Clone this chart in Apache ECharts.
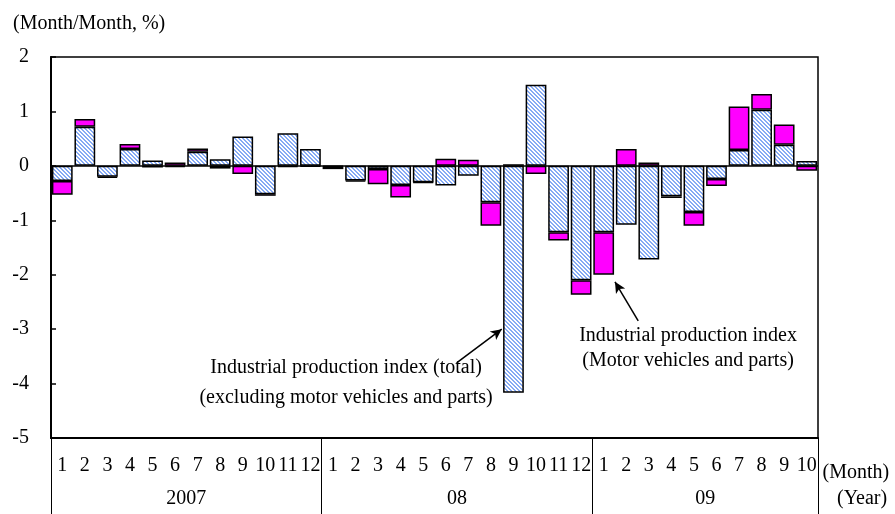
<!DOCTYPE html>
<html>
<head>
<meta charset="utf-8">
<script src="https://cdn.jsdelivr.net/npm/echarts@6/dist/echarts.min.js"></script>
<style>
html,body{margin:0;padding:0;background:#fff;}
#chart{width:895px;height:514px;}
</style>
</head>
<body>
<div id="chart"></div>
<script>
// ---- data ----
var years = ['2007', '08', '09'];
var monthsPerYear = [12, 12, 10];
var excludingMotor = [
  -0.28, 0.72, -0.20, 0.31, 0.10, -0.02, 0.26, 0.12, 0.54, -0.52, 0.60, 0.31,
  -0.01, -0.27, -0.06, -0.35, -0.30, -0.36, -0.18, -0.67, -4.17, 1.49, -1.22, -2.10,
  -1.22, -1.08, -1.72, -0.56, -0.85, -0.24, 0.29, 1.03, 0.39, 0.09
];
var motorVehicles = [
  -0.25, 0.14, -0.02, 0.09, -0.03, 0.06, 0.06, -0.05, -0.15, -0.03, -0.02, -0.01,
  -0.05, -0.02, -0.28, -0.23, -0.01, 0.13, 0.11, -0.43, 0.03, -0.15, -0.15, -0.27,
  -0.78, 0.31, 0.06, -0.03, -0.25, -0.13, 0.80, 0.29, 0.37, -0.09
];
var yTicks = [-5, -4, -3, -2, -1, 0, 1, 2];
var annotationTexts = [
  'Industrial production index (total)\n(excluding motor vehicles and parts)',
  'Industrial production index\n(Motor vehicles and parts)'
];
// annotation anchors in data space (x: month position 0..34, y: %)
var annotationAnchors = [[13.08, -3.98], [28.24, -3.36]];
var annotationLineHeights = [30, 25];
var arrowLines = [
  [[17.98, -3.62], [19.98, -3.0]],
  [[26.03, -2.85], [25.0, -2.13]]
];

// ---- build categories ----
var categories = [];
var yearBoundaries = [];
var yearCenters = {};
var pos = 0;
years.forEach(function (y, i) {
  yearBoundaries.push(pos);
  yearCenters[pos + monthsPerYear[i] / 2] = y;
  for (var m = 1; m <= monthsPerYear[i]; m++) categories.push(y + '-' + m);
  pos += monthsPerYear[i];
});
var total = categories.length;

// hatch pattern
var pc = document.createElement('canvas');
pc.width = 4; pc.height = 4;
var ctx = pc.getContext('2d');
ctx.fillStyle = '#ffffff';
ctx.fillRect(0, 0, 4, 4);
ctx.fillStyle = '#86aaf4';
for (var i = 0; i < 4; i++) {
  ctx.fillRect(i, i, 1, 1);
  ctx.fillRect((i + 1) % 4, i, 1, 1);
}

var FONT = 'Liberation Serif';
var FS = 20;
var gridRect = { left: 51, right: 77, top: 57, bottom: 76 };

var chart = echarts.init(document.getElementById('chart'), null, { renderer: 'canvas' });
chart.setOption({
  backgroundColor: '#fff',
  animation: false,
  title: {
    text: '(Month/Month, %)', left: 8, top: 9,
    textStyle: { fontFamily: FONT, fontSize: FS, fontWeight: 'normal', color: '#000' }
  },
  grid: [
    Object.assign({ show: true, borderColor: '#000', borderWidth: 1.5, backgroundColor: 'transparent' }, gridRect),
    Object.assign({ show: false }, gridRect)
  ],
  xAxis: [
    {
      type: 'category', gridIndex: 0, data: categories, position: 'bottom',
      axisLine: { show: true, onZero: false, lineStyle: { color: '#000', width: 2 } },
      axisTick: {
        show: true, length: 76, lineStyle: { color: '#000', width: 1 },
        interval: function (idx) { return yearBoundaries.indexOf(idx) >= 0; }
      },
      axisLabel: {
        interval: 0, margin: 18, color: '#000', fontFamily: FONT, fontSize: FS,
        formatter: function (v) { return v.split('-')[1]; }
      },
      name: '(Month)', nameLocation: 'end', nameGap: 1,
      nameTextStyle: { fontFamily: FONT, fontSize: FS, color: '#000', verticalAlign: 'top', align: 'left', padding: [25, 0, 0, 0] },
      splitLine: { show: false }
    },
    {
      type: 'value', gridIndex: 1, min: 0, max: total, interval: 1, position: 'bottom',
      axisLine: { show: false, onZero: false }, axisTick: { show: false }, splitLine: { show: false },
      axisLabel: {
        margin: 51, color: '#000', fontFamily: FONT, fontSize: FS,
        showMinLabel: true, showMaxLabel: true, hideOverlap: false,
        formatter: function (v) { return yearCenters[v] || ''; }
      },
      name: '(Year)', nameLocation: 'end', nameGap: 19,
      nameTextStyle: { fontFamily: FONT, fontSize: FS, color: '#000', verticalAlign: 'top', align: 'left', padding: [51, 0, 0, 0] }
    }
  ],
  yAxis: [
    {
      type: 'value', gridIndex: 0, min: yTicks[0], max: yTicks[yTicks.length - 1], interval: 1,
      axisLine: { show: true, onZero: false, lineStyle: { color: '#000', width: 2 } },
      axisTick: { show: true, inside: true, length: 5, lineStyle: { color: '#000', width: 1.5 } },
      axisLabel: { margin: 22, color: '#000', fontFamily: FONT, fontSize: FS },
      splitLine: { show: false }
    },
    {
      type: 'value', gridIndex: 1, min: yTicks[0], max: yTicks[yTicks.length - 1], show: false
    }
  ],
  series: [
    {
      name: 'Industrial production index (total) (excluding motor vehicles and parts)',
      type: 'bar', xAxisIndex: 0, yAxisIndex: 0, stack: 'total',
      barCategoryGap: '8%',
      data: excludingMotor,
      itemStyle: { color: { image: pc, repeat: 'repeat' }, borderColor: '#000', borderWidth: 1.5 }
    },
    {
      name: 'Industrial production index (Motor vehicles and parts)',
      type: 'bar', xAxisIndex: 0, yAxisIndex: 0, stack: 'total',
      barCategoryGap: '8%',
      data: motorVehicles,
      itemStyle: { color: '#ff00ff', borderColor: '#000', borderWidth: 1.5 },
      markLine: {
        silent: true, symbol: 'none', label: { show: false },
        lineStyle: { color: '#000', width: 1.5, type: 'solid' },
        data: [{ yAxis: 0 }]
      }
    },
    {
      name: 'annotations', type: 'scatter', xAxisIndex: 1, yAxisIndex: 1,
      symbolSize: 0, silent: true,
      itemStyle: { opacity: 1, color: '#000' },
      data: annotationAnchors.map(function (p, i) {
        return { value: p, label: { lineHeight: annotationLineHeights[i] } };
      }),
      label: {
        show: true, position: 'inside', align: 'center', verticalAlign: 'middle',
        fontFamily: FONT, fontSize: FS, color: '#000', opacity: 1,
        textBorderWidth: 0, textShadowBlur: 0,
        formatter: function (p) { return annotationTexts[p.dataIndex]; }
      },
      markLine: {
        silent: true, symbol: ['none', 'arrow'], symbolSize: [8, 11],
        label: { show: false },
        lineStyle: { color: '#000', width: 1.5, type: 'solid', opacity: 1 },
        data: arrowLines.map(function (l) { return [{ coord: l[0] }, { coord: l[1] }]; })
      }
    }
  ]
});
</script>
</body>
</html>
